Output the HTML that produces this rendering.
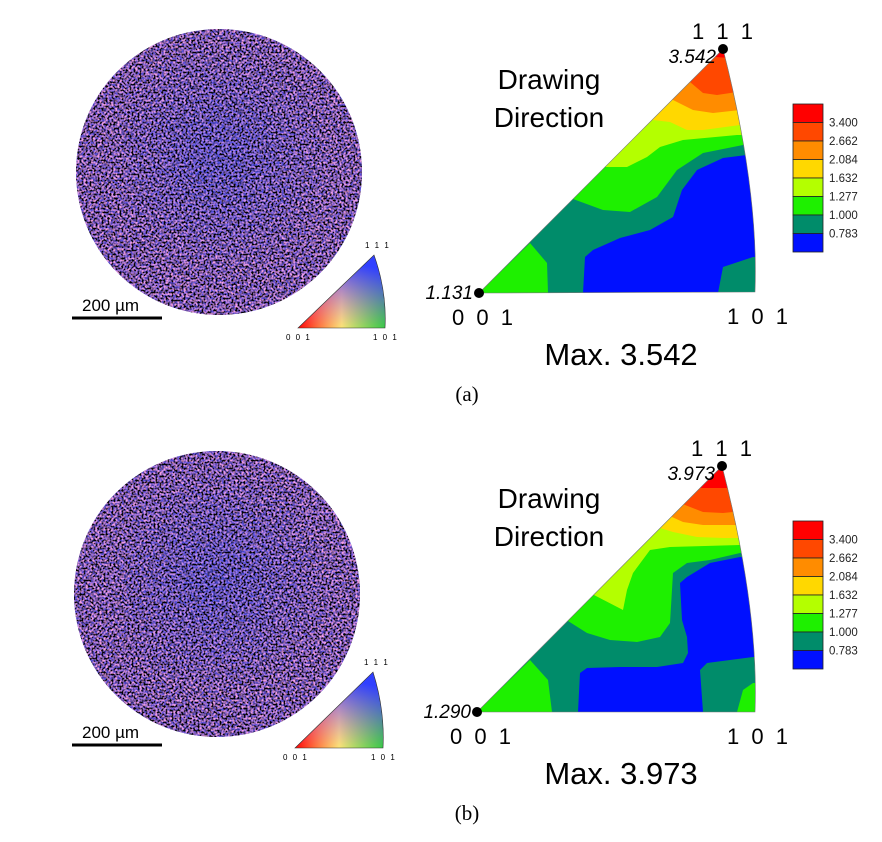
<!DOCTYPE html>
<html><head><meta charset="utf-8"><style>
html,body{margin:0;padding:0;background:#fff;}
svg{display:block;font-family:"Liberation Sans",sans-serif;}
</style></head><body>
<svg id="fig" width="882" height="842" viewBox="0 0 882 842">
<defs>
<filter id="pinkn" x="0" y="0" width="100%" height="100%">
<feTurbulence type="fractalNoise" baseFrequency="0.45" numOctaves="1" seed="7" result="n"/>
<feColorMatrix in="n" type="matrix" values="0 0 0 0 0.9  0 0 0 0 0.35  0 0 0 0 0.8  3.5 0 0 0 -1.25"/>
<feComposite in2="SourceGraphic" operator="in"/>
</filter>
<filter id="blackn" x="0" y="0" width="100%" height="100%">
<feTurbulence type="fractalNoise" baseFrequency="0.5" numOctaves="1" seed="2" result="n"/>
<feColorMatrix in="n" type="matrix" values="0 0 0 0 0  0 0 0 0 0  0 0 0 0 0  0 4 0 0 -1.75"/>
<feComposite in2="SourceGraphic" operator="in"/>
</filter>
<radialGradient id="blueZone" cx="0.5" cy="0.45" r="0.4"><stop offset="0" stop-color="#3050ff" stop-opacity="0.35"/><stop offset="1" stop-color="#3050ff" stop-opacity="0"/></radialGradient>
<linearGradient id="keyRG" x1="0" y1="0" x2="1" y2="0"><stop offset="0" stop-color="#ff0000"/><stop offset="0.5" stop-color="#ffff60"/><stop offset="1" stop-color="#00ff00"/></linearGradient>
<linearGradient id="keyB" x1="0" y1="1" x2="0.3" y2="0"><stop offset="0" stop-color="#ff40ff" stop-opacity="0"/><stop offset="1" stop-color="#3040ff" stop-opacity="1"/></linearGradient>
</defs>
<g id="root"></g>
</svg>
<script>
// Legend data
const legendColors = ["#ff0000","#ff4800","#ff8c00","#ffd800","#b4ff00","#1ef000","#008c6a","#0010ff"];
const legendLabels = ["3.400","2.662","2.084","1.632","1.277","1.000","0.783"];
const panelNames = ["a","b"];
const maxValues = ["3.542","3.973"];
const minValues = ["1.131","1.290"];
// Contour regions (figure coords), drawn in order, clipped to triangle
const regionsA = [
 ["#1ef000",[[479,293],[530,243],[547,263],[548,293]]],
 ["#0010ff",[[583,293],[585,257],[593,250],[620,238],[650,230],[673,217],[682,190],[697,170],[723,158],[770,152],[770,257],[753,257],[723,267],[718,293]]],
 ["#1ef000",[[573,199],[603,210],[630,212],[657,197],[677,170],[703,153],[743,145],[800,145],[800,0],[500,0]]],
 ["#b4ff00",[[606,167],[627,167],[647,157],[660,147],[683,140],[737,135],[800,135],[800,0],[500,0]]],
 ["#ffd800",[[653,120],[670,122],[687,130],[703,130],[740,125],[800,125],[800,0],[500,0]]],
 ["#ff8c00",[[673,100],[693,110],[713,113],[740,110],[800,110],[800,0],[500,0]]],
 ["#ff4800",[[690,82],[703,93],[717,95],[737,92],[800,92],[800,0],[500,0]]],
 ["#ff0000",[[715,57],[730,58],[800,58],[800,0],[600,0]]]
];
const regionsB = [
 ["#1ef000",[[477,712],[530,660],[548,680],[552,712]]],
 ["#0010ff",[[578,712],[580,673],[587,668],[620,667],[657,667],[683,663],[688,653],[687,637],[682,620],[680,583],[687,577],[710,563],[740,557],[770,557],[770,657],[753,657],[707,663],[700,670],[703,712]]],
 ["#1ef000",[[737,712],[743,690],[753,683],[770,683],[770,712]]],
 ["#1ef000",[[568,621],[587,633],[610,640],[637,642],[660,637],[670,623],[673,573],[687,563],[710,560],[740,553],[800,553],[800,400],[500,400]]],
 ["#b4ff00",[[594,595],[623,610],[627,590],[633,573],[650,550],[670,547],[740,545],[800,545],[800,400],[500,400]]],
 ["#ffd800",[[660,528],[673,532],[697,537],[723,538],[740,538],[800,538],[800,400],[500,400]]],
 ["#ff8c00",[[672,517],[683,522],[703,525],[733,525],[800,525],[800,400],[500,400]]],
 ["#ff4800",[[685,505],[703,512],[723,513],[733,512],[800,512],[800,400],[500,400]]],
 ["#ff0000",[[700,488],[713,488],[730,488],[800,488],[800,400],[600,400]]]
];
const panels = [
 {p0:[479,293],p1:[723,49],p2:[755,292],circ:[219,172],key:[298,328,374,255,385,328],bar:318,leg:104,regions:regionsA},
 {p0:[477,712],p1:[722,466],p2:[755,712],circ:[217,594],key:[295,748,373,672,383,748],bar:745,leg:521,regions:regionsB}
];
const NS="http://www.w3.org/2000/svg";
const root=document.getElementById('root');
function mk(tag,attrs,parent,text){const e=document.createElementNS(NS,tag);for(const k in attrs)e.setAttribute(k,attrs[k]);if(text!==undefined)e.textContent=text;(parent||root).appendChild(e);return e;}
const pts=a=>a.map(p=>p.join(',')).join(' ');
panels.forEach((P,i)=>{
 const n=panelNames[i];
 const g=mk('g',{});
 
 
 const c=mk('circle',{cx:P.circ[0],cy:P.circ[1],r:143,fill:'#5a4ed8'},g);
 
 
 const c2=mk('circle',{cx:P.circ[0],cy:P.circ[1],r:143,fill:'#fff',filter:'url(#pinkn)'},g);
 
 
 const cb=mk('circle',{cx:P.circ[0],cy:P.circ[1],r:143,fill:'url(#blueZone)'},g);
 
 
 const c3=mk('circle',{cx:P.circ[0],cy:P.circ[1],r:143,fill:'#fff',filter:'url(#blackn)'},g);
 
 
 const sb=mk('rect',{x:72,y:P.bar-1.5,width:90,height:3,fill:'#000'},g);
 
 
 const st=mk('text',{x:82,y:P.bar-7,'font-size':17,fill:'#000'},g,'200 µm');
 
 
 const K=P.key;
 const kd=`M${K[0]},${K[1]} L${K[2]},${K[3]} Q${K[4]+2},${(K[3]+K[5])/2} ${K[4]},${K[5]} Z`;
 const kt=mk('path',{d:kd,fill:'url(#keyRG)'},g);
 
 
 mk('path',{d:kd,fill:'url(#keyB)',stroke:'#333','stroke-width':0.6},g);
 const k1=mk('text',{x:K[0]-12,y:K[1]+12,'font-size':8,'letter-spacing':'1.5'},g,'0 0 1');
 
 const k2=mk('text',{x:K[2]-9,y:K[3]-7,'font-size':8,'letter-spacing':'1.5'},g,'1 1 1');
 
 const k3=mk('text',{x:K[4]-12,y:K[5]+12,'font-size':8,'letter-spacing':'1.5'},g,'1 0 1');
 
 const [a,b,d]=[P.p0,P.p1,P.p2];
 const tri=`M${a[0]},${a[1]} L${b[0]},${b[1]} Q${d[0]+4},${(b[1]+d[1])/2+20} ${d[0]},${d[1]} Z`;
 mk('clipPath',{id:'clip'+n},g);
 mk('path',{d:tri},g.lastChild);
 const ipf=mk('g',{'clip-path':'url(#clip'+n+')'},g);
 
 
 mk('path',{d:tri,fill:'#008c6a'},ipf);
 P.regions.forEach((r,j)=>{
  const pl=mk('polygon',{points:pts(r[1]),fill:r[0]},ipf);
  
  
 });
 mk('path',{d:tri,fill:'none',stroke:'#777','stroke-width':0.6},g);
 [a,b].forEach((p,j)=>{const dot=mk('circle',{cx:p[0],cy:p[1],r:5,fill:'#000'},g);
  
  });
 const t111=mk('text',{x:b[0]+1,y:b[1]-10,'font-size':22,'text-anchor':'middle','letter-spacing':'3'},g,'1 1 1');
 
 const tmax=mk('text',{x:b[0]-7,y:b[1]+14,'font-size':19,'font-style':'italic','text-anchor':'end'},g,maxValues[i]);
 
 const tmin=mk('text',{x:a[0]-6,y:a[1]+6,'font-size':19,'font-style':'italic','text-anchor':'end'},g,minValues[i]);
 
 const t001=mk('text',{x:a[0]-27,y:a[1]+32,'font-size':22,'letter-spacing':'3'},g,'0 0 1');
 
 const t101=mk('text',{x:d[0]-28,y:d[1]+32,'font-size':22,'letter-spacing':'3'},g,'1 0 1');
 
 const dd=mk('text',{x:549,y:a[1]-204,'font-size':28,'text-anchor':'middle'},g,'Drawing');
 
 mk('text',{x:549,y:a[1]-166,'font-size':28,'text-anchor':'middle'},g,'Direction');
 const mx=mk('text',{x:621,y:a[1]+72,'font-size':31,'text-anchor':'middle'},g,'Max. '+maxValues[i]);
 
 const cap=mk('text',{x:467,y:a[1]+108,'font-size':21,'text-anchor':'middle','font-family':'Liberation Serif, serif'},g,'('+n+')');
 
 const lg=mk('g',{},g);
 
 
 const h=18.5;
 legendColors.forEach((col,j)=>{
  const r=mk('rect',{x:793,y:P.leg+j*h,width:30,height:h,fill:col,stroke:'#222','stroke-width':0.8},lg);
  
  
 });
 legendLabels.forEach((l,j)=>{
  const t=mk('text',{x:829,y:P.leg+(j+1)*h+4,'font-size':11.5,fill:'#222'},lg,l);
  
  
 });
});
</script>
</body></html>
